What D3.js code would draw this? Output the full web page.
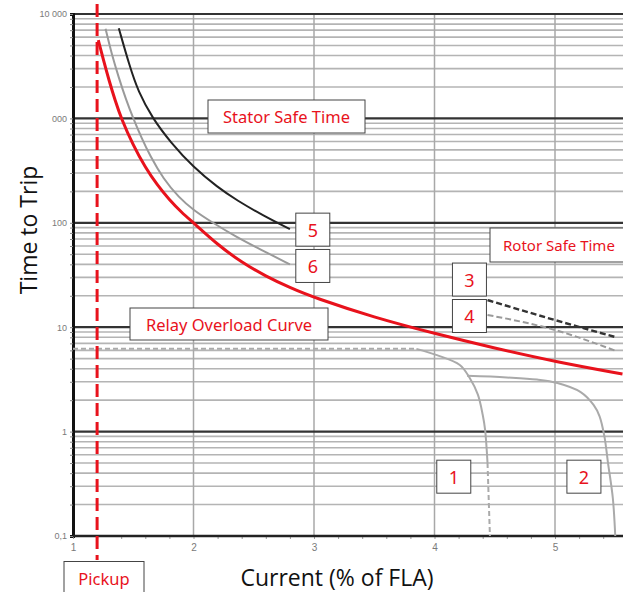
<!DOCTYPE html>
<html>
<head>
<meta charset="utf-8">
<script src="https://cdn.jsdelivr.net/npm/d3@7"></script>
<style>
  body { margin: 0; background: #fff; }
  svg { display: block; }
</style>
</head>
<body>
<svg width="623" height="592"></svg>
<script>
// Curves: [current (x FLA), time to trip (s)]
const overloadCurve = [[1.21, 5620], [1.25, 3715], [1.30, 2290], [1.35, 1480], [1.40, 1000], [1.5, 550],
    [1.6, 339], [1.7, 229], [1.8, 166], [1.9, 126], [2.0, 100], [2.2, 61.7], [2.4, 41.7], [2.6, 30.8],
    [2.8, 23.9], [3.0, 19.2], [3.5, 12.4], [4.0, 8.7], [4.5, 6.3], [5.0, 4.68], [5.56, 3.56]];
const curve5 = [[1.38, 7300], [1.47, 3160], [1.54, 1820], [1.66, 1000], [1.81, 590], [2.0, 339],
    [2.2, 219], [2.36, 164], [2.58, 117], [2.80, 87]];
const curve6 = [[1.27, 7240], [1.32, 4170], [1.38, 2455], [1.44, 1510], [1.50, 1000], [1.57, 646],
    [1.64, 437], [1.75, 263], [1.88, 174], [2.0, 132], [2.16, 100], [2.35, 74], [2.55, 56], [2.80, 40]];
const curve3 = [[4.44, 18.2], [5.0, 11.7], [5.51, 8.0]];
const curve4 = [[4.44, 13.1], [5.0, 9.4], [5.51, 5.9]];
const curve1Flat = [[1.0, 6.2], [3.85, 6.2]];
const curve1 = [[3.85, 6.2], [4.02, 5.4], [4.21, 4.35], [4.29, 3.3], [4.36, 2.26], [4.40, 1.45],
    [4.42, 1.04], [4.44, 0.5]];
const curve1Tail = [[4.44, 0.5], [4.46, 0.1]];
const curve2 = [[4.27, 3.42], [4.6, 3.3], [4.85, 3.15], [5.02, 2.92], [5.21, 2.4], [5.32, 1.8],
    [5.37, 1.4], [5.41, 0.9], [5.44, 0.5], [5.48, 0.23], [5.50, 0.1]];
const pickup = 1.2;

// axis ticks
const xTicks = [1, 2, 3, 4, 5];
const yMajor = [0.1, 1, 10, 100, 1000, 10000];
const yLabels = ["0,1", "1", "10", "100", "000", "10 000"];

// numbered tags: [label, x, t]
const curveTags = [["5", 2.99, 86], ["6", 2.99, 38.6], ["3", 4.29, 28.6], ["4", 4.29, 12.8],
    ["1", 4.16, 0.37], ["2", 5.24, 0.37]];

const svg = d3.select("svg"),
    width = +svg.attr("width"),
    height = +svg.attr("height");

const x = d3.scaleLinear().domain([1, 5]).range([73, 555]);
const y = d3.scaleLog().domain([0.1, 10000]).range([536, 14]);

const RED = "#e8121c";
const line = d3.line().x(d => x(d[0])).y(d => y(d[1])).curve(d3.curveMonotoneX);
const smooth = d3.line().x(d => x(d[0])).y(d => y(d[1])).curve(d3.curveBasis);
const lineV = d3.line().x(d => x(d[0])).y(d => y(d[1])).curve(d3.curveCatmullRom);

// minor horizontal grid
const minor = y.ticks(40).filter(v => !yMajor.some(m => Math.abs(m - v) < 1e-9));
svg.append("g")
    .selectAll("line")
    .data(minor)
    .join("line")
    .attr("x1", x(1)).attr("x2", width)
    .attr("y1", d => y(d)).attr("y2", d => y(d))
    .style("stroke", "#b4b4b4")
    .style("stroke-width", 1.6);

// vertical grid
svg.append("g")
    .selectAll("line")
    .data(xTicks.slice(1))
    .join("line")
    .attr("x1", d => x(d)).attr("x2", d => x(d))
    .attr("y1", y(10000)).attr("y2", y(0.1))
    .style("stroke", "#a8a8a8")
    .style("stroke-width", 1.5);

// major horizontal grid
svg.append("g")
    .selectAll("line")
    .data(yMajor)
    .join("line")
    .attr("x1", x(1)).attr("x2", width)
    .attr("y1", d => y(d)).attr("y2", d => y(d))
    .style("stroke", "#333")
    .style("stroke-width", 2.2);

// y axis
const yAxis = svg.append("g")
    .attr("transform", `translate(${x(1)},0)`)
    .call(d3.axisLeft(y).tickValues(yMajor.concat(minor)).tickSize(3)
        .tickFormat(d => { const i = yMajor.indexOf(d); return i >= 0 ? yLabels[i] : ""; }));
yAxis.select(".domain").style("stroke", "#111").style("stroke-width", 3);
yAxis.selectAll(".tick line").style("stroke", "#888");
yAxis.selectAll("text").style("fill", "#7a7a7a").style("font", "9px 'Liberation Sans', Arial, sans-serif");

// x axis
const xAxis = svg.append("g")
    .attr("transform", `translate(0,${y(0.1)})`)
    .call(d3.axisBottom(x).tickValues(d3.range(1, 5.61, 0.2)).tickSize(3)
        .tickFormat(d => xTicks.some(t => Math.abs(t - d) < 1e-6) ? d3.format("d")(d) : ""));
xAxis.select(".domain").remove();
xAxis.append("line")
    .attr("x1", x(1)).attr("x2", width)
    .style("stroke", "#222").style("stroke-width", 2.5);
xAxis.selectAll(".tick line").style("stroke", "#999");
xAxis.selectAll("text").style("fill", "#7a7a7a").attr("dy", "0.9em")
    .style("font", "10px 'Liberation Sans', Arial, sans-serif");

// curves
const curves = [
    { data: curve1Flat, color: "#aaa", w: 2, dash: "5,3", gen: line },
    { data: curve1, color: "#aaa", w: 2, dash: null, gen: lineV },
    { data: curve1Tail, color: "#aaa", w: 2, dash: "5,3", gen: line },
    { data: curve2, color: "#aaa", w: 2, dash: null, gen: lineV },
    { data: curve6, color: "#9a9a9a", w: 2, dash: null, gen: smooth },
    { data: curve5, color: "#222", w: 2, dash: null, gen: smooth },
    { data: curve4, color: "#9a9a9a", w: 2, dash: "6,3", gen: line },
    { data: curve3, color: "#333", w: 2.4, dash: "6,3", gen: line },
    { data: overloadCurve, color: RED, w: 3, dash: null, gen: smooth }
];
svg.append("g")
    .selectAll("path")
    .data(curves)
    .join("path")
    .attr("d", d => d.gen(d.data))
    .style("fill", "none")
    .style("stroke", d => d.color)
    .style("stroke-width", d => d.w)
    .style("stroke-dasharray", d => d.dash);

// pickup line
svg.append("line")
    .attr("x1", x(pickup)).attr("x2", x(pickup))
    .attr("y1", 4).attr("y2", 560)
    .style("stroke", RED)
    .style("stroke-width", 3)
    .style("stroke-dasharray", "13,6");

// labelled boxes
function tag(label, cx, cy, w, h, size, anchorX) {
    const g = svg.append("g");
    g.append("rect")
        .attr("x", cx - w / 2).attr("y", cy - h / 2)
        .attr("width", w).attr("height", h)
        .style("fill", "#fff")
        .style("stroke", "#444")
        .style("stroke-width", 1);
    g.append("text")
        .attr("x", anchorX == null ? cx : anchorX).attr("y", cy)
        .attr("text-anchor", anchorX == null ? "middle" : "start")
        .attr("dominant-baseline", "central")
        .style("fill", RED)
        .style("font", `${size}px 'Noto Sans', sans-serif`)
        .text(label);
}
tag("Stator Safe Time", 286.5, 116.5, 157, 33, 16.5);
tag("Relay Overload Curve", 229, 324, 198, 32, 16.5);
tag("Rotor Safe Time", 570, 245, 160, 34, 15, 503);
tag("Pickup", 104, 578, 80, 33, 16.5);
curveTags.forEach(d => tag(d[0], x(d[1]), y(d[2]), 34, 33, 18));

// axis titles
svg.append("text")
    .attr("transform", "translate(28,230) rotate(-90)")
    .attr("text-anchor", "middle")
    .attr("dominant-baseline", "central")
    .style("font", "23px 'Open Sans', sans-serif")
    .style("fill", "#111")
    .text("Time to Trip");
svg.append("text")
    .attr("x", 337).attr("y", 577)
    .attr("text-anchor", "middle")
    .attr("dominant-baseline", "central")
    .style("font", "23px 'Open Sans', sans-serif")
    .style("fill", "#111")
    .text("Current (% of FLA)");
</script>
</body>
</html>
